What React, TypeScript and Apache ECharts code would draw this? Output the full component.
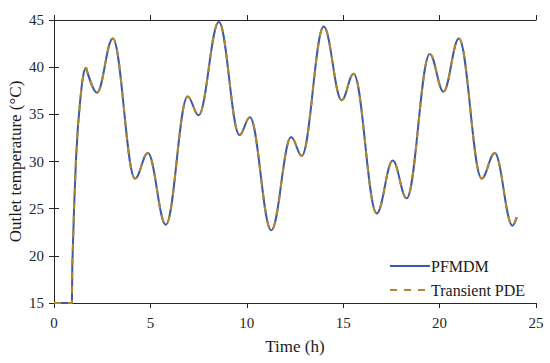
import React, { useEffect, useRef } from "react";
import * as echarts from "echarts";

// Initial start-up rise (h, °C)
const riseTime = [0, 0.93, 0.95, 1.04, 1.14, 1.24, 1.36, 1.46, 1.55, 1.66];
const riseTemp = [15, 15, 19, 25, 30.2, 33.7, 36.5, 38.4, 39.5, 40.0];

// Extrema of the daily cycle after start-up (h, °C)
const waveTime = [1.66, 2.23, 3.05, 4.2, 4.87, 5.8, 6.93, 7.5, 8.55, 9.62, 10.16, 11.27, 12.3, 12.85, 13.99, 14.92, 15.54, 16.74, 17.57, 18.29, 19.49, 20.2, 21.0, 22.18, 22.86, 23.78, 24.0];
const pfmdmTemp = [40.0, 37.3, 43.05, 28.2, 30.9, 23.3, 36.9, 34.9, 44.8, 32.8, 34.7, 22.7, 32.6, 30.6, 44.3, 36.5, 39.3, 24.5, 30.1, 26.1, 41.4, 37.4, 43.05, 28.2, 30.9, 23.2, 24.1];
const pdeTemp = [40.0, 37.3, 43.05, 28.2, 30.9, 23.3, 36.9, 34.9, 44.8, 32.8, 34.7, 22.7, 32.6, 30.6, 44.3, 36.5, 39.3, 24.5, 30.1, 26.1, 41.4, 37.4, 43.05, 28.2, 30.9, 23.2, 24.1];

const seriesNames = ["PFMDM", "Transient PDE"];
const xTicks = { min: 0, max: 25, interval: 5 };
const yTicks = { min: 15, max: 45, interval: 5 };

const FONT = "Liberation Serif";
const AXIS = "#262626";
const BLUE = "#3A5BAA";
const BROWN = "#B5862A";

export default function App() {
  const ref = useRef<HTMLDivElement>(null);
  useEffect(() => {
    if (!ref.current) return;
    const chart = echarts.init(ref.current, undefined, { renderer: "svg" });
    const pair = (xs: number[], ys: number[]) => xs.map((x, i) => [x, ys[i]]);
    const axisCommon = {
      axisLine: { show: true, lineStyle: { color: AXIS, width: 1 } },
      axisTick: { show: true, inside: false, length: 5, lineStyle: { color: AXIS } },
      splitLine: { show: false },
    };
    chart.setOption({
      animation: false,
      backgroundColor: "#ffffff",
      grid: { left: 54, right: 14, top: 20, bottom: 60, containLabel: false, outerBoundsMode: "none" },
      legend: {
        data: seriesNames,
        orient: "vertical",
        left: 384,
        top: 253,
        itemWidth: 40,
        itemHeight: 14,
        itemGap: 8,
        itemStyle: { opacity: 0 },
        textStyle: { fontFamily: FONT, fontSize: 16, color: "#1a1a1a", padding: [0, 0, 0, -4] },
      },
      xAxis: [
        {
          type: "value",
          position: "bottom",
          ...xTicks,
          ...axisCommon,
          name: "Time (h)",
          nameLocation: "middle",
          nameGap: 35,
          nameMoveOverlap: false,
          nameTextStyle: { fontFamily: FONT, fontSize: 17, color: "#1a1a1a" },
          axisLabel: { fontFamily: FONT, fontSize: 15, color: "#262626", margin: 12 },
        },
        {
          type: "value",
          position: "top",
          ...xTicks,
          ...axisCommon,
          axisLabel: { show: false },
        },
      ],
      yAxis: [
        {
          type: "value",
          position: "left",
          ...yTicks,
          ...axisCommon,
          name: "Outlet temperature (°C)",
          nameLocation: "middle",
          nameGap: 30,
          nameMoveOverlap: false,
          nameTextStyle: { fontFamily: FONT, fontSize: 17, color: "#1a1a1a" },
          axisLabel: { fontFamily: FONT, fontSize: 15, color: "#262626", margin: 10 },
        },
        {
          type: "value",
          position: "right",
          ...yTicks,
          ...axisCommon,
          axisLabel: { show: false },
        },
      ],
      series: [
        {
          name: seriesNames[0],
          type: "line",
          data: pair(riseTime, riseTemp),
          showSymbol: false,
          symbol: "none",
          lineStyle: { color: BLUE, width: 2 },
          itemStyle: { color: BLUE },
          z: 2,
        },
        {
          name: seriesNames[0],
          type: "line",
          data: pair(waveTime, pfmdmTemp),
          showSymbol: false,
          symbol: "none",
          smooth: 0.38,
          smoothMonotone: "x",
          lineStyle: { color: BLUE, width: 2 },
          itemStyle: { color: BLUE },
          z: 2,
        },
        {
          name: seriesNames[1],
          type: "line",
          data: pair(riseTime, riseTemp),
          showSymbol: false,
          symbol: "none",
          lineStyle: { color: BROWN, width: 2, type: [7, 7] },
          itemStyle: { color: BROWN },
          z: 3,
        },
        {
          name: seriesNames[1],
          type: "line",
          data: pair(waveTime, pdeTemp),
          showSymbol: false,
          symbol: "none",
          smooth: 0.38,
          smoothMonotone: "x",
          lineStyle: { color: BROWN, width: 2, type: [7, 7] },
          itemStyle: { color: BROWN },
          z: 3,
        },
      ],
    });
    return () => chart.dispose();
  }, []);
  return (
    <div
      ref={ref}
      style={{ position: "fixed", left: 0, top: 0, width: 550, height: 363, background: "#fff" }}
    />
  );
}
